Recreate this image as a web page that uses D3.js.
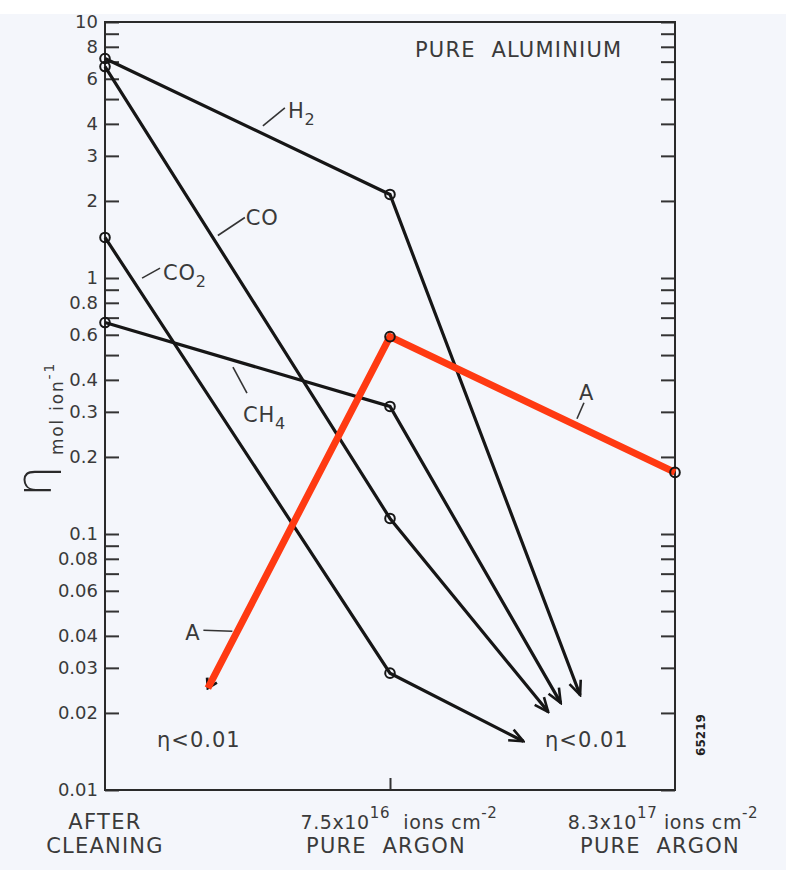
<!DOCTYPE html>
<html><head><meta charset="utf-8">
<script src="https://cdn.jsdelivr.net/npm/d3@7"></script>
<style>
html,body{margin:0;padding:0;background:#fff;}
svg{display:block;font-family:"DejaVu Sans","Liberation Sans",Arial,sans-serif;}
</style></head><body>
<svg id="chart" width="786" height="870"></svg>
<script>
// ---------------- DATA ----------------
const categories = ["AFTER CLEANING", "7.5x10^16 ions cm^-2 PURE ARGON", "8.3x10^17 ions cm^-2 PURE ARGON"];
const categoryLines = [
  ["AFTER", "CLEANING"],
  ["7.5x10^{16}  ions cm^{-2}", "PURE  ARGON"],
  ["8.3x10^{17} ions cm^{-2}", "PURE  ARGON"]
];
const seriesNames = ["H2", "CO", "CO2", "CH4"];
const h2Values  = [7.2, 2.12];
const coValues  = [6.7, 0.115];
const co2Values = [1.44, 0.0286];
const ch4Values = [0.67, 0.315];
// arrow tips drawn towards "η<0.01" : [category position, value]
const h2Arrow  = [1.667, 0.0235];
const coArrow  = [1.555, 0.0202];
const co2Arrow = [1.468, 0.0155];
const ch4Arrow = [1.599, 0.0219];
// argon series "A" (red)
const argonPositions = [0.361, 1, 2];
const argonValues    = [0.025, 0.59, 0.174];
// y axis ticks
const yMajorTicks  = [10, 8, 6, 4, 3, 2, 1, 0.8, 0.6, 0.4, 0.3, 0.2, 0.1, 0.08, 0.06, 0.04, 0.03, 0.02, 0.01];
const yMajorLabels = ["10", "8", "6", "4", "3", "2", "1", "0.8", "0.6", "0.4", "0.3", "0.2", "0.1", "0.08", "0.06", "0.04", "0.03", "0.02", "0.01"];
const yMinorTicks  = [9, 7, 5, 0.9, 0.7, 0.5, 0.09, 0.07, 0.05];
const titleText = "PURE  ALUMINIUM";
const limitText = "η<0.01";
const figureNumber = "65219";

// ---------------- LAYOUT ----------------
const svg = d3.select("#chart");
const W = 786, H = 870;
const pLeft = 105, pRight = 675, pTop = 22, pBottom = 790;
const ink = "#161616", textInk = "#3a3a3a", red = "#ff3a12";

svg.append("rect").attr("x", 0).attr("y", 14).attr("width", W).attr("height", H - 14).attr("fill", "#f4f6fb");

const x = d3.scaleLinear().domain([0, categories.length - 1]).range([pLeft, pRight]);
const y = d3.scaleLog().domain([0.01, 10]).range([pBottom, pTop]);

const labelOf = v => { const i = yMajorTicks.indexOf(v); return i >= 0 ? yMajorLabels[i] : ""; };
const allTicks = yMajorTicks.concat(yMinorTicks);

// left axis
const gL = svg.append("g").attr("transform", `translate(${pLeft},0)`)
  .call(d3.axisLeft(y).tickValues(allTicks).tickSize(-14).tickSizeOuter(0).tickPadding(7).tickFormat(labelOf));
gL.select(".domain").remove();
gL.selectAll(".tick line").attr("stroke", "#333").attr("stroke-width", 2);
gL.selectAll(".tick text").attr("font-size", 18).attr("fill", textInk).attr("font-family", '"DejaVu Sans", sans-serif');

// right axis
const gR = svg.append("g").attr("transform", `translate(${pRight},0)`)
  .call(d3.axisRight(y).tickValues(allTicks).tickSize(-14).tickSizeOuter(0).tickFormat(""));
gR.select(".domain").remove();
gR.selectAll(".tick line").attr("stroke", "#333").attr("stroke-width", 2);

// bottom ticks
const gB = svg.append("g").attr("transform", `translate(0,${pBottom})`)
  .call(d3.axisBottom(x).tickValues([1]).tickSize(-12).tickSizeOuter(0).tickFormat(""));
gB.select(".domain").remove();
gB.selectAll(".tick line").attr("stroke", "#333").attr("stroke-width", 2);

// frame
svg.append("rect").attr("x", pLeft).attr("y", pTop).attr("width", pRight - pLeft).attr("height", pBottom - pTop)
  .attr("fill", "none").attr("stroke", "#2a2a2a").attr("stroke-width", 2);

// rich text helper (^{...} superscript)
function rich(sel, str, size, small, shift) {
  const parts = str.split(/(\^\{[^}]*\}|_\{[^}]*\})/).filter(s => s.length);
  let off = 0;
  parts.forEach(p => {
    if (p.startsWith("^{") || p.startsWith("_{")) {
      const s = p.startsWith("^") ? -shift : shift;
      sel.append("tspan").attr("font-size", small).attr("dy", s - off).text(p.slice(2, -1));
      off = s;
    } else {
      sel.append("tspan").attr("font-size", size).attr("dy", -off).text(p);
      off = 0;
    }
  });
}

// x category labels
const line1dx = [0, 9, -12], line2dx = [0, -4, -15];
categoryLines.forEach((lines, i) => {
  const t1 = svg.append("text").attr("x", x(i) + line1dx[i]).attr("y", 829)
    .attr("text-anchor", "middle").attr("fill", textInk).attr("letter-spacing", i === 0 ? 1.3 : 0.6)
    .style("white-space", "pre");
  rich(t1, lines[0], i === 0 ? 21 : 19, 15, 11);
  svg.append("text").attr("x", x(i) + line2dx[i]).attr("y", 853)
    .attr("text-anchor", "middle").attr("fill", textInk).attr("font-size", 21).attr("letter-spacing", 1.2)
    .style("white-space", "pre").text(lines[1]);
});

// title
svg.append("text").attr("x", pRight - 260).attr("y", 57).attr("fill", textInk).attr("font-size", 21)
  .attr("letter-spacing", 1.2).style("white-space", "pre").text(titleText);

// y axis title
svg.append("text").attr("transform", "translate(51,497) rotate(-90)").attr("fill", "#2a2a2a")
  .attr("font-size", 50).attr("font-weight", 300).text("η");
const yt = svg.append("text").attr("transform", "translate(63,455) rotate(-90)").attr("fill", textInk)
  .attr("letter-spacing", 1.8);
rich(yt, "mol ion^{-1}", 17, 14, 9);

// limit labels
[157, 545].forEach(px => {
  svg.append("text").attr("x", px).attr("y", 747).attr("fill", textInk).attr("font-size", 21)
    .attr("letter-spacing", 1).text(limitText);
});

// figure number
svg.append("text").attr("transform", "translate(705,735) rotate(-90)").attr("text-anchor", "middle")
  .attr("font-size", 12).attr("font-weight", "bold").attr("fill", "#222").text(figureNumber);

// arrow markers
const defs = svg.append("defs");
defs.append("marker").attr("id", "arr").attr("markerUnits", "userSpaceOnUse")
  .attr("viewBox", "-17 -9 19 18").attr("markerWidth", 19).attr("markerHeight", 18)
  .attr("refX", 0).attr("refY", 0).attr("orient", "auto-start-reverse")
  .append("path").attr("d", "M-14,-6 L0,0 L-14,6").attr("fill", "none").attr("stroke", ink)
  .attr("stroke-width", 2.6).attr("stroke-linejoin", "miter");
defs.append("marker").attr("id", "arrS").attr("markerUnits", "userSpaceOnUse")
  .attr("viewBox", "-12 -7 14 14").attr("markerWidth", 14).attr("markerHeight", 14)
  .attr("refX", 0).attr("refY", 0).attr("orient", "auto-start-reverse")
  .append("path").attr("d", "M-9,-5.5 L0,0 L-9,5.5").attr("fill", "none").attr("stroke", ink)
  .attr("stroke-width", 2.8);

const line = d3.line();
const gases = [
  {name: seriesNames[0], values: h2Values,  arrow: h2Arrow},
  {name: seriesNames[1], values: coValues,  arrow: coArrow},
  {name: seriesNames[2], values: co2Values, arrow: co2Arrow},
  {name: seriesNames[3], values: ch4Values, arrow: ch4Arrow}
];
gases.forEach(g => {
  g.pts = g.values.map((v, i) => [x(i), y(v)]).concat([[x(g.arrow[0]), y(g.arrow[1])]]);
  svg.append("path").attr("d", line(g.pts)).attr("fill", "none").attr("stroke", ink)
    .attr("stroke-width", 3.2).attr("marker-end", "url(#arr)");
});

// argon series: black under-line with start arrow, red overlay
const aPts = argonPositions.map((u, i) => [x(u), y(argonValues[i])]);
svg.append("path").attr("d", line(aPts)).attr("fill", "none").attr("stroke", ink)
  .attr("stroke-width", 2.5).attr("marker-start", "url(#arrS)");
svg.append("path").attr("d", line(aPts)).attr("fill", "none").attr("stroke", red)
  .attr("stroke-width", 7).attr("stroke-linejoin", "miter");

// point circles
const circlePts = [];
gases.forEach(g => g.pts.slice(0, g.values.length).forEach(p => circlePts.push(p)));
aPts.slice(1).forEach(p => circlePts.push(p));
svg.selectAll("circle.pt").data(circlePts).join("circle").attr("class", "pt")
  .attr("cx", d => d[0]).attr("cy", d => d[1]).attr("r", 4.8)
  .attr("fill", "none").attr("stroke", ink).attr("stroke-width", 2);

// series labels with leader lines
const labels = [
  {pts: gases[0].pts, seg: 0, t: 0.554, l0: [0, -8],  l1: [22, -26], tx: [25, -16], main: "H", sub: "2"},
  {pts: gases[1].pts, seg: 0, t: 0.396, l0: [0, -10], l1: [27, -28], tx: [28, -20], main: "CO", sub: ""},
  {pts: gases[2].pts, seg: 0, t: 0.13,  l0: [0, -16], l1: [18, -26], tx: [21, -14], main: "CO", sub: "2"},
  {pts: gases[3].pts, seg: 0, t: 0.449, l0: [0, 7],   l1: [14, 33],  tx: [10, 62],  main: "CH", sub: "4"},
  {pts: aPts,         seg: 0, t: 0.162, l0: [-5, 0],  l1: [-34, -1], tx: [-37, 9],  main: "A", sub: "", anchor: "end"},
  {pts: aPts,         seg: 1, t: 0.649, l0: [2, -6],  l1: [9, -22],  tx: [4, -25],  main: "A", sub: ""}
];
labels.forEach(L => {
  const a = L.pts[L.seg], b = L.pts[L.seg + 1];
  const P = [a[0] + (b[0] - a[0]) * L.t, a[1] + (b[1] - a[1]) * L.t];
  svg.append("line").attr("x1", P[0] + L.l0[0]).attr("y1", P[1] + L.l0[1])
    .attr("x2", P[0] + L.l1[0]).attr("y2", P[1] + L.l1[1]).attr("stroke", "#333").attr("stroke-width", 1.6);
  const t = svg.append("text").attr("x", P[0] + L.tx[0]).attr("y", P[1] + L.tx[1])
    .attr("fill", textInk).attr("text-anchor", L.anchor || "start").attr("letter-spacing", 0.8);
  t.append("tspan").attr("font-size", 21).text(L.main);
  if (L.sub) t.append("tspan").attr("font-size", 16).attr("dy", 7).text(L.sub);
});
</script>
</body></html>
